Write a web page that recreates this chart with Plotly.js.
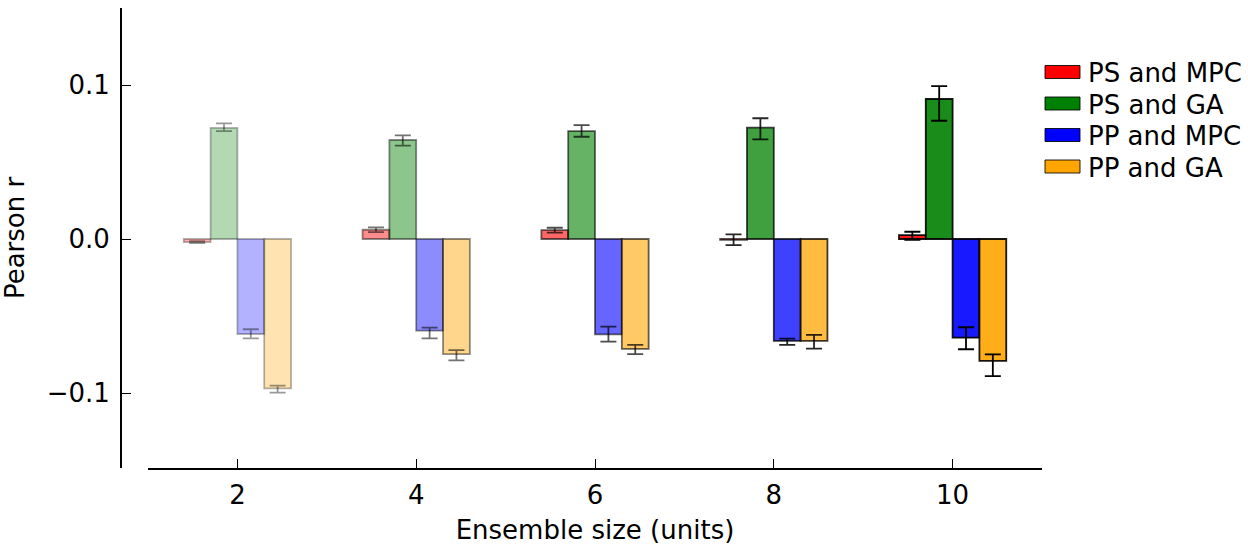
<!DOCTYPE html>
<html>
<head>
<meta charset="utf-8">
<script src="https://cdn.plot.ly/plotly-3.0.1.min.js"></script>
<style>html,body{margin:0;padding:0;background:#fff;}#chart{width:1248px;height:548px;}</style>
</head>
<body>
<div id="chart"></div>
<script>
// ---- data ----
const ensembleSizes = [2, 4, 6, 8, 10];
const seriesNames = ["PS and MPC", "PS and GA", "PP and MPC", "PP and GA"];

const psMpc        = [-0.0020, 0.0060, 0.0057, -0.0005, 0.0025];
const psMpcErrUp   = [0.0006, 0.0015, 0.0016, 0.0035, 0.0022];
const psMpcErrDown = [0.0006, 0.0015, 0.0016, 0.0035, 0.0030];

const psGa        = [0.0721, 0.0643, 0.0701, 0.0723, 0.0909];
const psGaErrUp   = [0.0030, 0.0030, 0.0039, 0.0061, 0.0084];
const psGaErrDown = [0.0020, 0.0037, 0.0037, 0.0076, 0.0141];

const ppMpc        = [-0.0617, -0.0595, -0.0619, -0.0662, -0.0641];
const ppMpcErrUp   = [0.0031, 0.0019, 0.0050, 0.0015, 0.0068];
const ppMpcErrDown = [0.0028, 0.0050, 0.0048, 0.0026, 0.0075];

const ppGa        = [-0.0970, -0.0747, -0.0714, -0.0662, -0.0792];
const ppGaErrUp   = [0.0018, 0.0026, 0.0026, 0.0039, 0.0043];
const ppGaErrDown = [0.0028, 0.0041, 0.0033, 0.0050, 0.0098];

const yTickVals = [-0.1, 0.0, 0.1];
const yTickText = ["\u22120.1", "0.0", "0.1"];

// ---- styling ----
const seriesColors = [[255,0,0],[0,128,0],[0,0,255],[255,165,0]];
const groupAlpha = [0.3, 0.45, 0.6, 0.75, 0.9];
const barOffsets = [-0.6, -0.3, 0.0, 0.3];
const barWidth = 0.3;
const FONT = "DejaVu Sans, Liberation Sans, sans-serif";

const W = 1248, H = 548;
const M = {l: 121, r: 206, t: 8, b: 80};
const plotW = W - M.l - M.r, plotH = H - M.t - M.b;
const px2x = p => (p - M.l) / plotW;       // pixel -> paper x
const px2y = p => 1 - (p - M.t) / plotH;   // pixel -> paper y

const seriesData = [
  [psMpc, psMpcErrUp, psMpcErrDown],
  [psGa, psGaErrUp, psGaErrDown],
  [ppMpc, ppMpcErrUp, ppMpcErrDown],
  [ppGa, ppGaErrUp, ppGaErrDown]
];

function rgba(c, a){ return `rgba(${c[0]},${c[1]},${c[2]},${a})`; }

const traces = [];
ensembleSizes.forEach((sz, g) => {
  seriesData.forEach((sd, s) => {
    const a = groupAlpha[g];
    traces.push({
      type: "bar",
      x: [sz],
      y: [sd[0][g]],
      offset: barOffsets[s],
      width: barWidth,
      showlegend: false,
      name: seriesNames[s],
      marker: {color: rgba(seriesColors[s], a), line: {color: rgba([0,0,0], a), width: 1.8}},
      error_y: {type: "data", symmetric: false, array: [sd[1][g]], arrayminus: [sd[2][g]],
                color: rgba([0,0,0], Math.min(1, a + 0.1)), thickness: 1.8, width: 8},
      hoverinfo: "x+y+name"
    });
  });
});

// custom legend (wide swatches like the reference)
const shapes = [], annotations = [];
const legendRows = [72, 103.5, 135, 166.5];
seriesNames.forEach((n, s) => {
  const cy = legendRows[s];
  shapes.push({type: "rect", xref: "paper", yref: "paper",
    x0: px2x(1045), x1: px2x(1080), y0: px2y(cy - 6.5), y1: px2y(cy + 6.5),
    fillcolor: rgba(seriesColors[s], 1), line: {color: "rgba(0,0,0,0.85)", width: 1}});
  annotations.push({xref: "paper", yref: "paper", x: px2x(1086), y: px2y(cy + 1),
    xanchor: "left", yanchor: "middle", showarrow: false, text: n,
    font: {family: FONT, size: 26, color: "#000"}});
});

const layout = {
  width: W, height: H,
  margin: M,
  paper_bgcolor: "#fff", plot_bgcolor: "#fff",
  barmode: "overlay",
  font: {family: FONT, size: 26, color: "#000"},
  showlegend: false,
  shapes: shapes,
  annotations: annotations,
  xaxis: {
    domain: [px2x(148), 1], range: [1, 11],
    tickvals: ensembleSizes, ticktext: ensembleSizes.map(String),
    ticks: "inside", ticklen: 9, tickwidth: 1, tickcolor: "#000",
    showline: true, linewidth: 2, linecolor: "#000",
    showgrid: false, zeroline: false,
    tickfont: {family: FONT, size: 26, color: "#000"},
    ticklabelstandoff: 3,
    title: {text: "Ensemble size (units)", font: {family: FONT, size: 26, color: "#000"}, standoff: 12}
  },
  yaxis: {
    anchor: "free", position: 0,
    range: [-0.1487, 0.15],
    tickvals: yTickVals, ticktext: yTickText,
    ticks: "inside", ticklen: 9, tickwidth: 1, tickcolor: "#000",
    showline: true, linewidth: 2, linecolor: "#000",
    showgrid: false, zeroline: false,
    tickfont: {family: FONT, size: 26, color: "#000"},
    ticklabelstandoff: 5,
    title: {text: "Pearson r", font: {family: FONT, size: 26, color: "#000"}, standoff: 14}
  }
};

Plotly.newPlot("chart", traces, layout, {displayModeBar: false, staticPlot: true});
</script>
</body>
</html>
